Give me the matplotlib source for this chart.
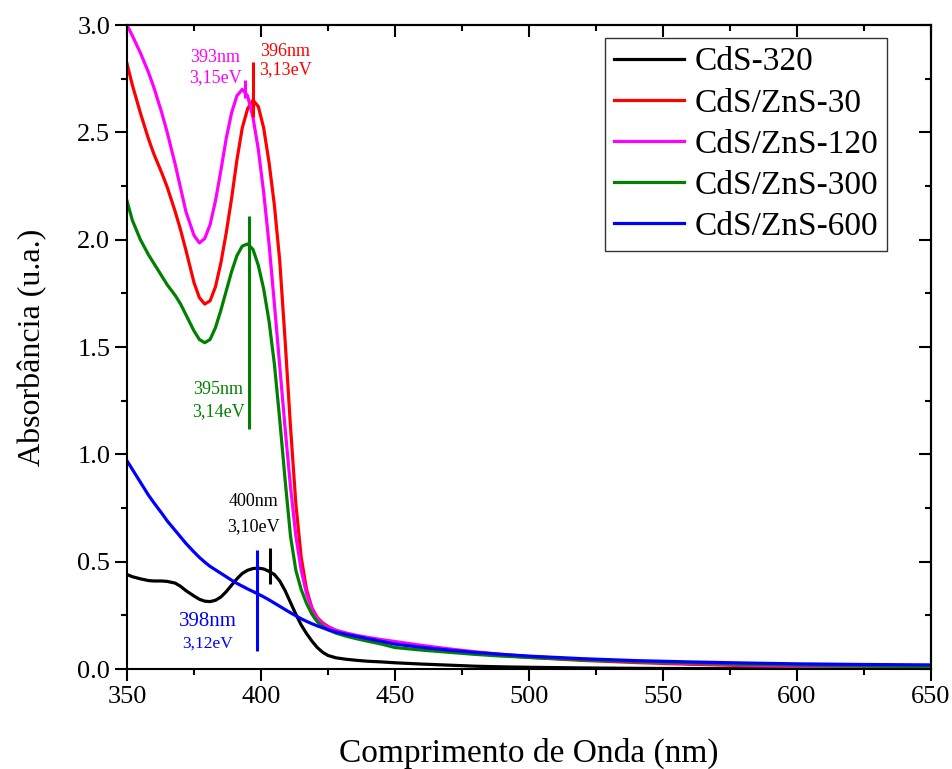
import matplotlib
matplotlib.use("Agg")
import matplotlib.pyplot as plt
from matplotlib.ticker import MultipleLocator, FormatStrFormatter

plt.rcParams['font.family'] = ['Liberation Serif', 'DejaVu Serif']

# comprimento de onda (nm)
wl = [350, 352, 355, 358, 360, 363, 365, 368, 370, 372, 375, 377, 379, 381, 383,
      385, 387, 389, 391, 393, 395, 397, 399, 401, 403, 405, 407, 409, 411, 413,
      415, 417, 419, 421, 423, 425, 428, 432, 436, 440, 445, 450, 460, 470, 480,
      490, 500, 520, 540, 560, 580, 600, 625, 650]

cds_320 = [0.44, 0.43, 0.42, 0.412, 0.41, 0.41, 0.408, 0.40, 0.385, 0.365, 0.34, 0.325, 0.316, 0.314, 0.32,
           0.335, 0.36, 0.39, 0.42, 0.445, 0.46, 0.468, 0.47, 0.466, 0.455, 0.44, 0.41, 0.365, 0.31, 0.255,
           0.205, 0.165, 0.13, 0.10, 0.078, 0.063, 0.052, 0.045, 0.040, 0.036, 0.033, 0.029, 0.023, 0.018, 0.013,
           0.010, 0.008, 0.005, 0.003, 0.002, 0.001, 0.001, 0.001, 0.001]

zns_30 = [2.82, 2.72, 2.59, 2.47, 2.40, 2.31, 2.245, 2.13, 2.045, 1.95, 1.80, 1.73, 1.70, 1.715, 1.78,
          1.89, 2.03, 2.19, 2.37, 2.52, 2.61, 2.65, 2.62, 2.52, 2.36, 2.16, 1.90, 1.53, 1.13, 0.77,
          0.52, 0.37, 0.285, 0.24, 0.215, 0.198, 0.18, 0.163, 0.15, 0.14, 0.129, 0.12, 0.103, 0.088, 0.075,
          0.064, 0.054, 0.040, 0.030, 0.022, 0.016, 0.011, 0.007, 0.005]

zns_120 = [3.00, 2.95, 2.87, 2.78, 2.71, 2.59, 2.50, 2.35, 2.24, 2.13, 2.02, 1.985, 2.005, 2.07, 2.18,
           2.32, 2.47, 2.59, 2.67, 2.70, 2.67, 2.57, 2.42, 2.22, 1.98, 1.70, 1.41, 1.12, 0.85, 0.62,
           0.46, 0.35, 0.28, 0.235, 0.21, 0.195, 0.18, 0.167, 0.156, 0.147, 0.137, 0.128, 0.11, 0.094, 0.08,
           0.068, 0.058, 0.044, 0.034, 0.026, 0.019, 0.013, 0.008, 0.005]

zns_300 = [2.18, 2.09, 2.00, 1.93, 1.89, 1.83, 1.79, 1.74, 1.70, 1.65, 1.575, 1.535, 1.52, 1.535, 1.59,
           1.67, 1.76, 1.85, 1.925, 1.97, 1.98, 1.955, 1.88, 1.77, 1.62, 1.42, 1.16, 0.88, 0.62, 0.46,
           0.37, 0.305, 0.255, 0.22, 0.198, 0.183, 0.167, 0.152, 0.14, 0.129, 0.116, 0.10, 0.088, 0.078, 0.068,
           0.060, 0.054, 0.043, 0.035, 0.029, 0.023, 0.018, 0.014, 0.011]

zns_600 = [0.97, 0.93, 0.87, 0.81, 0.775, 0.725, 0.69, 0.645, 0.615, 0.585, 0.545, 0.52, 0.498, 0.478, 0.462,
           0.446, 0.43, 0.414, 0.399, 0.386, 0.373, 0.361, 0.349, 0.336, 0.322, 0.307, 0.292, 0.277, 0.262, 0.248,
           0.234, 0.222, 0.211, 0.201, 0.192, 0.183, 0.172, 0.161, 0.151, 0.141, 0.129, 0.116, 0.101, 0.088, 0.077,
           0.068, 0.060, 0.048, 0.039, 0.033, 0.028, 0.024, 0.021, 0.019]

labels = ['CdS-320', 'CdS/ZnS-30', 'CdS/ZnS-120', 'CdS/ZnS-300', 'CdS/ZnS-600']
cores = ['black', '#FF0000', '#FF00FF', '#008000', '#0000FF']

# marcas dos picos: posicao, inicio e fim da linha vertical
pico_x = [403.4, 397.2, 394.0, 395.6, 398.6]
pico_y0 = [0.396, 2.571, 2.658, 1.118, 0.084]
pico_y1 = [0.564, 2.829, 2.743, 2.110, 0.554]

# textos dos picos
txt_nm = ['400nm', '396nm', '393nm', '395nm', '398nm']
txt_ev = ['3,10eV', '3,13eV', '3,15eV', '3,14eV', '3,12eV']
txt_x = [397.2, 409.1, 383.0, 384.0, 380.0]
txt_y_nm = [0.78, 2.878, 2.848, 1.30, 0.219]
txt_y_ev = [0.664, 2.79, 2.757, 1.197, 0.116]
txt_size_nm = [13, 13, 13, 13, 15]
txt_size_ev = [13, 13, 13, 13, 12.5]

fig = plt.figure(figsize=(9.53, 7.69), dpi=100)
ax = fig.add_axes([127/953, 1 - 669/769, (931 - 127)/953, (669 - 25)/769])

series = [cds_320, zns_30, zns_120, zns_300, zns_600]
for ys, lab, c in zip(series, labels, cores):
    ax.plot(wl, ys, color=c, lw=2.3, label=lab)

for i in range(5):
    ax.vlines(pico_x[i], pico_y0[i], pico_y1[i], color=cores[i], lw=2.2)
    ax.text(txt_x[i], txt_y_nm[i], txt_nm[i], color=cores[i], fontsize=txt_size_nm[i],
            ha='center', va='center')
    ax.text(txt_x[i], txt_y_ev[i], txt_ev[i], color=cores[i], fontsize=txt_size_ev[i],
            ha='center', va='center')

ax.set_xlim(350, 650)
ax.set_ylim(0, 3.0)
ax.xaxis.set_major_locator(MultipleLocator(50))
ax.xaxis.set_minor_locator(MultipleLocator(25))
ax.yaxis.set_major_locator(MultipleLocator(0.5))
ax.yaxis.set_minor_locator(MultipleLocator(0.25))
ax.yaxis.set_major_formatter(FormatStrFormatter('%.1f'))

for s in ax.spines.values():
    s.set_linewidth(1.5)

ax.tick_params(which='major', direction='out', length=8.5, width=1.5, labelsize=19)
ax.tick_params(which='minor', direction='out', length=4, width=1.5)

# ticks para dentro no topo e na direita
top = ax.secondary_xaxis('top')
top.xaxis.set_major_locator(MultipleLocator(50))
top.xaxis.set_minor_locator(MultipleLocator(25))
top.tick_params(which='major', direction='in', length=8.5, width=1.5, labeltop=False)
top.tick_params(which='minor', direction='in', length=4, width=1.5)
right = ax.secondary_yaxis('right')
right.yaxis.set_major_locator(MultipleLocator(0.5))
right.yaxis.set_minor_locator(MultipleLocator(0.25))
right.tick_params(which='major', direction='in', length=8.5, width=1.5, labelright=False)
right.tick_params(which='minor', direction='in', length=4, width=1.5)
for sa in (top, right):
    for s in sa.spines.values():
        s.set_linewidth(1.5)

ax.set_xlabel('Comprimento de Onda (nm)', fontsize=24, labelpad=22)
ax.set_ylabel('Absorbância (u.a.)', fontsize=23, labelpad=22)

leg = ax.legend(loc='upper right', bbox_to_anchor=(887/953, 1 - 38/769),
                bbox_transform=fig.transFigure, borderaxespad=0, fontsize=24,
                fancybox=False, edgecolor='#333333', framealpha=1,
                handlelength=2.1, handletextpad=0.3, labelspacing=0.32,
                borderpad=0.27)
leg.get_frame().set_linewidth(1.0)

fig.savefig('out.png', dpi=100)
